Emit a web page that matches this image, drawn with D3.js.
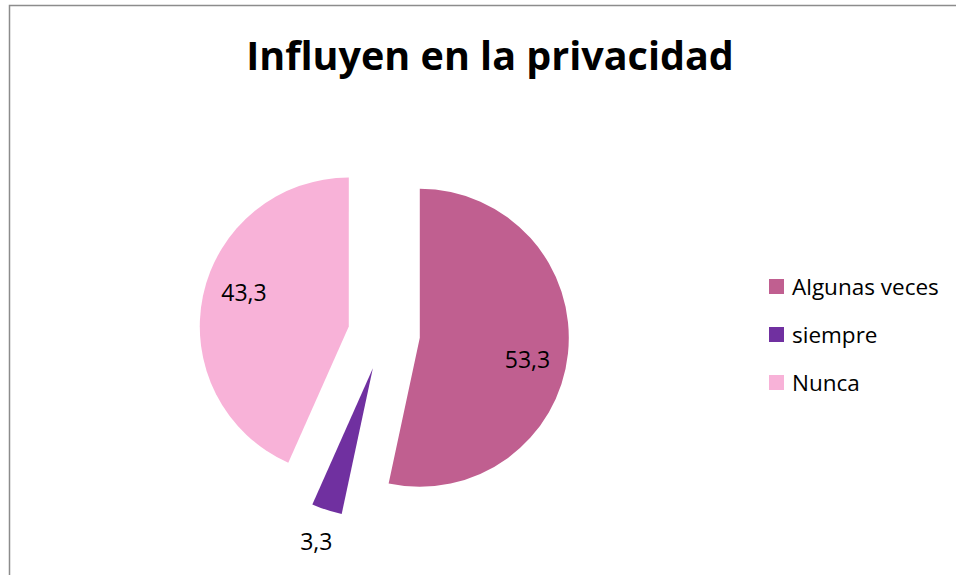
<!DOCTYPE html>
<html>
<head>
<meta charset="utf-8">
<script src="https://cdn.jsdelivr.net/npm/d3@7"></script>
<style>
  body { margin: 0; background: #fff; }
  svg { display: block; }
</style>
</head>
<body>
<script>
let categories = ["Algunas veces", "siempre", "Nunca"];
let values = [53.3, 3.3, 43.3];
let labels = ["53,3", "3,3", "43,3"];
let colors = ["#C05F90", "#7030A0", "#F8B2D8"];

let width = 956;
let height = 575;
let cx = 384, cy = 334;
let radius = 149;
let explode = 36;
let labelShift = 0.1; // labels sit a bit clockwise of the slice middle

let svg = d3
  .select("body")
  .append("svg")
  .attr("width", width)
  .attr("height", height);

svg
  .append("rect")
  .attr("x", 9.5)
  .attr("y", 5.5)
  .attr("width", width + 10)
  .attr("height", height + 10)
  .attr("fill", "none")
  .attr("stroke", "#8c8c8c")
  .attr("stroke-width", 1.5);

svg
  .append("text")
  .text("Influyen en la privacidad")
  .attr("x", 490)
  .attr("y", 70)
  .attr("text-anchor", "middle")
  .attr("font-family", "Open Sans, sans-serif")
  .attr("font-weight", "bold")
  .attr("font-size", "39.5px")
  .attr("fill", "#000");

let pie = d3.pie().sort(null).value((d) => d)(values);
let arc = d3.arc().innerRadius(0).outerRadius(radius);

function offset(d, dist, shift = 0) {
  let a = (d.startAngle + d.endAngle) / 2 + shift;
  return [Math.sin(a) * dist, -Math.cos(a) * dist];
}

let g = svg.append("g").attr("transform", `translate(${cx},${cy})`);

let slices = g
  .selectAll("g.slice")
  .data(pie)
  .enter()
  .append("g")
  .attr("class", "slice")
  .attr("transform", (d) => {
    let o = offset(d, explode);
    return `translate(${o[0]},${o[1]})`;
  });

slices
  .append("path")
  .attr("d", arc)
  .attr("fill", (d, i) => colors[i]);

// labels: inside big slices, outside the small one
function labelPos(d) {
  return d.value < 10 ? offset(d, radius + 34) : offset(d, 110, labelShift);
}

slices
  .append("text")
  .text((d, i) => labels[i])
  .attr("x", (d) => labelPos(d)[0])
  .attr("y", (d) => labelPos(d)[1] + 8)
  .attr("text-anchor", "middle")
  .attr("font-family", "Open Sans, sans-serif")
  .attr("font-size", "23px")
  .attr("fill", "#000");

let legend = svg
  .selectAll("g.legend")
  .data(categories)
  .enter()
  .append("g")
  .attr("class", "legend")
  .attr("transform", (d, i) => `translate(769,${279 + i * 48})`);

legend
  .append("rect")
  .attr("width", 15)
  .attr("height", 15)
  .attr("fill", (d, i) => colors[i]);

legend
  .append("text")
  .text((d) => d)
  .attr("x", 23)
  .attr("y", 15.5)
  .attr("font-family", "Open Sans, sans-serif")
  .attr("font-size", "22.5px")
  .attr("fill", "#000");
</script>
</body>
</html>
